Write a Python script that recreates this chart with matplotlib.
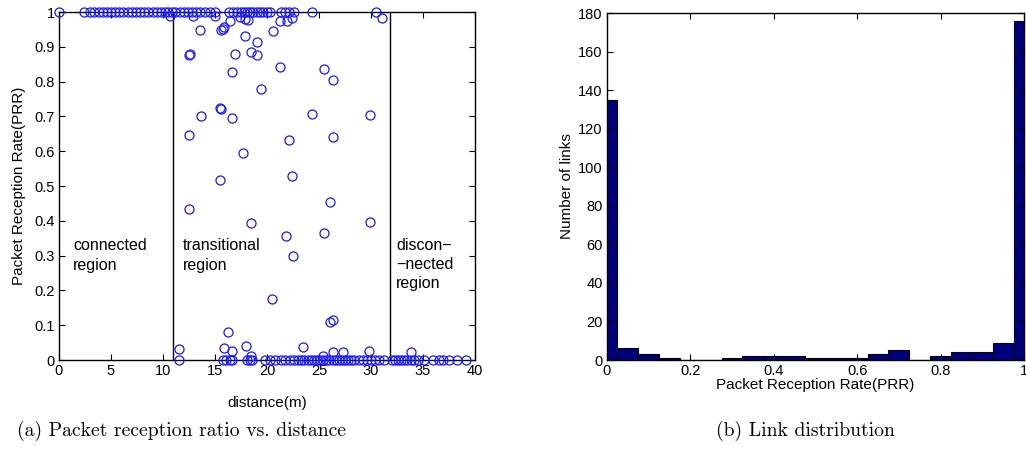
import matplotlib.pyplot as plt
import numpy as np

# distance (m) / PRR samples per link
conn_x = [0, 2.4, 3.0, 3.4, 3.8, 4.2, 4.6, 5.0, 5.4, 5.8, 6.2, 6.6, 7.0, 7.4, 7.8,
          8.2, 8.6, 9.0, 9.4, 9.8, 10.2, 10.5]
trans_top_x = [10.9, 11.2, 11.6, 12.0, 12.4, 12.8, 13.2, 13.6, 14.0, 14.5, 15.0,
               16.3, 16.7, 17.1, 17.5, 17.8, 18.1, 18.4, 18.7, 19.0, 19.3, 19.6,
               20.0, 20.3, 21.3, 21.7, 22.1, 22.6, 24.3, 30.5]
near_top_x = [10.7, 12.9, 15.0, 17.4, 17.9, 18.2, 21.25, 21.9, 22.4, 31.05]
near_top_y = [0.99, 0.99, 0.99, 0.985, 0.98, 0.977, 0.975, 0.973, 0.983, 0.983]

mid_x = [12.5, 13.6, 15.6, 15.75, 15.9, 16.4, 20.6, 17.9, 19.0, 12.6, 16.9, 18.5,
         19.0, 16.6, 21.25, 25.5, 26.3, 19.4, 15.6, 13.65, 16.6, 24.3, 29.9, 15.5,
         12.5, 22.1, 26.3, 17.7, 15.5, 22.4, 12.5, 26.1, 18.5, 29.9, 21.8, 25.5,
         22.5, 20.5, 26.1, 26.3, 16.25, 11.5, 15.9, 16.6, 18.0, 18.5, 23.5, 25.4,
         26.3, 27.3, 29.8, 33.8]
mid_y = [0.877, 0.948, 0.948, 0.951, 0.957, 0.975, 0.945, 0.93, 0.914, 0.879, 0.88,
         0.885, 0.876, 0.828, 0.842, 0.836, 0.805, 0.779, 0.721, 0.701, 0.695, 0.707,
         0.704, 0.724, 0.647, 0.632, 0.64, 0.595, 0.517, 0.529, 0.434, 0.454, 0.394,
         0.396, 0.356, 0.365, 0.299, 0.175, 0.109, 0.115, 0.08, 0.032, 0.035, 0.026,
         0.04, 0.012, 0.037, 0.012, 0.023, 0.023, 0.026, 0.023]

zero_x = [11.5, 15.8, 16.1, 16.4, 16.6, 18.1, 18.4, 18.6, 19.8, 20.3, 20.8, 21.3,
          21.7, 22.2, 22.6, 23.0, 23.3, 23.6, 23.9, 24.2, 24.5, 24.8, 25.1, 25.4,
          25.7, 26.0, 26.3, 26.6, 26.9, 27.2, 27.5, 27.8, 28.1, 28.4, 28.8, 29.2,
          29.6, 30.0, 30.4, 30.8, 31.2, 32.0, 32.3, 32.6, 32.9, 33.2, 33.5, 33.8,
          34.1, 34.5, 35.1, 36.0, 36.5, 36.9, 37.5, 38.3, 39.1]

# region borders (m)
bounds = [11.0, 31.8]

# PRR histogram, 21 bins centred on 0, 0.05, ..., 1
bin_centres = np.linspace(0, 1, 21)
link_counts = [135, 6, 3, 1, 0, 0, 1, 2, 2, 2, 1, 1, 1, 3, 5, 0, 2, 4, 4, 9, 176]

plt.rcParams['font.family'] = ['Liberation Sans', 'DejaVu Sans']
plt.rcParams['font.size'] = 10

fig = plt.figure(figsize=(10.26, 4.54), dpi=100)
ax = fig.add_axes([0.0575, 0.207, 0.4055, 0.7665])
ax2 = fig.add_axes([0.5916, 0.207, 0.4064, 0.7643])

xs = conn_x + trans_top_x + near_top_x + mid_x + zero_x
ys = ([1.0] * len(conn_x) + [1.0] * len(trans_top_x) + near_top_y + mid_y
      + [0.0] * len(zero_x))
ax.plot(xs, ys, 'o', mfc='none', mec='#1a1aff', ms=6.5, mew=0.9, clip_on=False,
        zorder=3)
for b in bounds:
    ax.axvline(b, color='black', lw=1.0)

ax.text(1.35, 0.30, 'connected\nregion', fontsize=11.5, va='center', linespacing=1.45)
ax.text(11.9, 0.30, 'transitional\nregion', fontsize=11.5, va='center',
        linespacing=1.45)
ax.text(32.4, 0.275, 'discon\u2212\n\u2212nected\nregion', fontsize=11.5,
        va='center', linespacing=1.35)

ax.set_xlim(0, 40)
ax.set_ylim(0, 1)
ax.set_xticks(range(0, 41, 5))
ax.set_yticks(np.arange(0, 1.01, 0.1))
ax.set_yticklabels(['0', '0.1', '0.2', '0.3', '0.4', '0.5', '0.6', '0.7', '0.8',
                    '0.9', '1'])
ax.set_xlabel('distance(m)', fontsize=11, labelpad=13)
ax.set_ylabel('Packet Reception Rate(PRR)', fontsize=11, labelpad=6)

ax2.bar(bin_centres, link_counts, width=0.05, color='#00007f', edgecolor='black',
        linewidth=0.8)
ax2.set_xlim(0, 1)
ax2.set_ylim(0, 180)
ax2.set_xticks(np.arange(0, 1.01, 0.2))
ax2.set_xticklabels(['0', '0.2', '0.4', '0.6', '0.8', '1'])
ax2.set_yticks(range(0, 181, 20))
ax2.set_xlabel('Packet Reception Rate(PRR)', fontsize=11, labelpad=0)
ax2.set_ylabel('Number of links', fontsize=11, labelpad=3)

for a in (ax, ax2):
    a.tick_params(direction='in', top=True, right=True, labelsize=10.5, length=4,
                  width=0.8, pad=3)
    for s in a.spines.values():
        s.set_linewidth(1.0)

fig.text(0.177, 0.05, '(a) Packet reception ratio vs. distance', family='cmr10',
         fontsize=14.2, ha='center', va='center')
fig.text(0.785, 0.05, '(b) Link distribution', family='cmr10', fontsize=14.2,
         ha='center', va='center')

fig.savefig('out.png', dpi=100)
